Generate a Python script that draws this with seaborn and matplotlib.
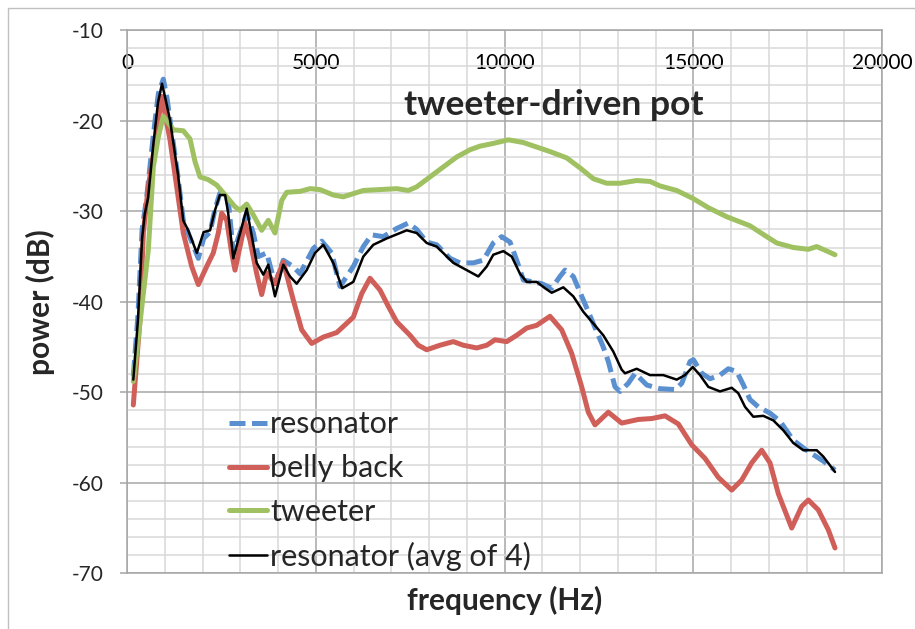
import pandas as pd
import matplotlib
matplotlib.use('Agg')
import matplotlib.pyplot as plt
from matplotlib.patches import Rectangle
from matplotlib.ticker import MultipleLocator
import seaborn as sns

# resonator (single measurement), dashed blue
res_freq = [167, 290, 400, 520, 700, 830, 962, 1060, 1160, 1360, 1490, 1630, 1889, 2030,
            2200, 2330, 2460, 2600, 2700, 2816, 3171, 3346, 3480, 3700, 3920, 4140, 4400,
            4583, 4937, 5160, 5420, 5642, 5995, 6260, 6480, 6790, 7144, 7452, 7674, 7939,
            8204, 8556, 8820, 9175, 9440, 9703, 9924, 10146, 10323, 10500, 10765, 10985,
            11250, 11470, 11603, 11823, 12088, 12352, 12617, 12750, 12927, 13062, 13280,
            13460, 13770, 14120, 14520, 14697, 14915, 15004, 15225, 15445, 15709, 15930,
            16150, 16330, 16503, 16720, 17032, 17300, 17650, 18000, 18445, 18755]
res_db = [-48.2, -41.5, -32.0, -28.5, -21.5, -17.0, -15.4, -17.5, -20.5, -26.5, -31.0, -32.5,
          -35.2, -33.0, -32.3, -29.8, -28.0, -27.9, -29.5, -34.6, -30.2, -32.4, -35.0, -34.6,
          -38.0, -35.4, -36.1, -36.9, -34.1, -33.3, -34.6, -38.3, -36.1, -33.9, -32.6, -32.8,
          -31.9, -31.3, -32.0, -33.4, -33.7, -35.2, -35.7, -35.7, -35.4, -33.5, -32.8, -33.4,
          -35.4, -37.6, -37.8, -38.0, -38.5, -37.2, -36.5, -37.2, -39.8, -42.4, -45.0, -46.6,
          -49.4, -49.9, -49.0, -47.9, -49.2, -49.6, -49.7, -49.0, -46.6, -46.4, -47.9, -48.5,
          -48.1, -47.4, -47.7, -49.2, -50.8, -51.6, -52.3, -53.2, -55.3, -56.4, -57.6, -58.6]

# belly back, red
belly_freq = [167, 344, 432, 564, 787, 919, 1139, 1317, 1491, 1714, 1889, 2111, 2286, 2419,
              2509, 2641, 2773, 2861, 2993, 3126, 3258, 3436, 3568, 3701, 3920, 4140, 4405,
              4628, 4893, 5200, 5555, 5995, 6217, 6437, 6702, 6922, 7144, 7497, 7717, 7939,
              8291, 8644, 8909, 9264, 9529, 9748, 10058, 10323, 10588, 10853, 11205, 11515,
              11780, 12045, 12220, 12397, 12750, 13104, 13545, 13900, 14252, 14604, 14959,
              15311, 15664, 16019, 16283, 16548, 16813, 17033, 17253, 17608, 17873, 18048,
              18313, 18578, 18755]
belly_db = [-51.4, -42.0, -32.4, -27.3, -21.4, -17.3, -22.1, -27.3, -32.4, -36.1, -38.1, -36.1,
            -34.6, -32.4, -30.2, -31.0, -34.6, -36.5, -33.9, -31.3, -33.2, -36.9, -39.2, -36.8,
            -38.0, -35.6, -39.8, -43.1, -44.6, -43.9, -43.4, -41.7, -39.1, -37.4, -38.7, -40.5,
            -42.2, -43.7, -44.8, -45.3, -44.8, -44.4, -44.8, -45.1, -44.8, -44.2, -44.4, -43.7,
            -42.9, -42.6, -41.6, -43.1, -45.7, -49.4, -52.2, -53.6, -52.2, -53.4, -53.0, -52.9,
            -52.6, -53.5, -55.8, -57.3, -59.4, -60.8, -59.7, -57.8, -56.4, -57.8, -61.2, -65.0,
            -62.6, -61.9, -63.0, -65.2, -67.2]

# tweeter, green
tweet_freq = [167, 564, 697, 829, 962, 1227, 1491, 1669, 1801, 1934, 2154, 2376, 2641, 2861,
              2993, 3171, 3346, 3568, 3743, 3920, 4098, 4230, 4583, 4848, 5113, 5465, 5730,
              6260, 6702, 7144, 7452, 7674, 8026, 8379, 8734, 9086, 9351, 9703, 10101, 10498,
              10853, 11205, 11648, 12000, 12352, 12707, 13062, 13502, 13854, 14120, 14562,
              15001, 15399, 15886, 16503, 16946, 17211, 17649, 18047, 18270, 18490, 18755]
tweet_db = [-48.8, -34.3, -25.1, -21.8, -19.5, -21.0, -21.1, -22.0, -24.5, -26.2, -26.5, -27.1,
            -28.4, -29.5, -29.9, -29.2, -30.4, -32.1, -31.0, -32.4, -28.8, -27.9, -27.8, -27.5,
            -27.6, -28.2, -28.4, -27.7, -27.6, -27.5, -27.7, -27.3, -26.2, -25.1, -24.0, -23.2,
            -22.8, -22.5, -22.1, -22.4, -22.9, -23.4, -24.1, -25.2, -26.4, -26.9, -26.9, -26.6,
            -26.7, -27.2, -27.7, -28.6, -29.6, -30.6, -31.6, -32.8, -33.5, -34.0, -34.2, -33.9,
            -34.3, -34.8]

# resonator averaged over 4 measurements, black
avg_freq = [167, 290, 400, 470, 560, 700, 820, 927, 1020, 1139, 1360, 1490, 1620, 1850, 2030,
            2200, 2330, 2460, 2600, 2680, 2816, 3171, 3436, 3611, 3743, 3920, 4140, 4318, 4495,
            4760, 4980, 5200, 5465, 5700, 5995, 6260, 6525, 6879, 7410, 7674, 7939, 8204, 8644,
            8999, 9306, 9529, 9703, 9968, 10191, 10411, 10588, 10853, 11073, 11250, 11558,
            11823, 12088, 12352, 12617, 12882, 13104, 13192, 13502, 13854, 14207, 14562, 14781,
            14986, 15179, 15399, 15709, 16019, 16193, 16371, 16591, 16856, 17120, 17385, 17650,
            17915, 18270, 18445, 18755]
avg_db = [-48.6, -42.0, -33.0, -30.3, -28.5, -22.5, -18.0, -15.9, -17.6, -19.9, -26.2, -31.0,
          -32.1, -34.6, -32.3, -32.1, -29.9, -28.2, -28.2, -30.2, -35.2, -29.7, -35.7, -37.0,
          -35.9, -39.4, -35.9, -37.2, -38.0, -36.5, -34.6, -33.7, -35.7, -38.5, -37.8, -35.0,
          -33.7, -33.0, -32.1, -32.4, -33.5, -33.9, -35.7, -36.5, -37.2, -36.1, -34.8, -34.4,
          -35.0, -36.9, -37.8, -37.8, -38.5, -39.0, -38.4, -39.4, -41.1, -42.4, -43.7, -45.5,
          -47.5, -47.9, -47.4, -48.1, -48.1, -48.6, -48.1, -47.2, -48.1, -49.4, -49.9, -49.5,
          -50.1, -51.6, -52.7, -52.6, -53.1, -54.2, -55.6, -56.4, -56.4, -57.1, -58.8]

series_names = ['resonator', 'belly back', 'tweeter', 'resonator (avg of 4)']
series_colors = ['#5a8fd0', '#cf5f58', '#9fc162', '#000000']

frames = []
for name, f, p in zip(series_names,
                      [res_freq, belly_freq, tweet_freq, avg_freq],
                      [res_db, belly_db, tweet_db, avg_db]):
    frames.append(pd.DataFrame({'freq': f, 'power': p, 'series': name}))
df = pd.concat(frames, ignore_index=True)

sns.set_style('white')
plt.rcParams['font.family'] = ['Lato', 'DejaVu Sans']
plt.rcParams['axes.unicode_minus'] = False

fig = plt.figure(figsize=(9.15, 6.29), dpi=100)
ax = fig.add_axes([127 / 915, 1 - 573.3 / 629, 755 / 915, 543 / 629])

styles = {
    'resonator': dict(lw=3.6, linestyle=(0, (3.2, 1.3))),
    'belly back': dict(lw=3.6),
    'tweeter': dict(lw=3.6),
    'resonator (avg of 4)': dict(lw=1.8),
}
for name, color in zip(series_names, series_colors):
    sub = df[df['series'] == name]
    sns.lineplot(data=sub, x='freq', y='power', ax=ax, color=color, label=name,
                 estimator=None, sort=False, solid_joinstyle='round', **styles[name])

ax.set_xlim(0, 20000)
ax.set_ylim(-70, -10)
ax.xaxis.set_major_locator(MultipleLocator(5000))
ax.xaxis.set_minor_locator(MultipleLocator(1000))
ax.yaxis.set_major_locator(MultipleLocator(10))
ax.yaxis.set_minor_locator(MultipleLocator(2))

ax.set_axisbelow(True)
ax.grid(which='minor', color='#d9d9d9', lw=1.1)
ax.grid(which='major', color='#a6a6a6', lw=1.1)
for sp in ax.spines.values():
    sp.set_color('#a6a6a6')
    sp.set_linewidth(1.1)

ax.xaxis.tick_top()
ax.tick_params(axis='x', which='both', length=0, labelsize=15, pad=-31, labelcolor='black')
ax.tick_params(axis='y', which='major', direction='out', length=5, width=1.1,
               color='#a6a6a6', labelsize=15, pad=12, left=True)
ax.tick_params(axis='y', which='minor', length=0)

ax.set_xlabel('frequency (Hz)', fontsize=21.5, fontweight='bold')
ax.xaxis.set_label_position('bottom')
ax.xaxis.set_label_coords(0.5, -0.024)
ax.xaxis.label.set_va('top')
ax.set_ylabel('power (dB)', fontsize=21.5, fontweight='bold')
ax.yaxis.set_label_coords(-0.095, 0.5)

# title sits inside the plot area, centred near 11.2 kHz
ax.text(11300, -19.4, 'tweeter-driven pot', fontsize=25.5, fontweight='bold',
        ha='center', va='baseline')

ax.legend(loc='upper left', bbox_to_anchor=(0.135, 0.3), frameon=False,
          fontsize=22, borderpad=0, borderaxespad=0, handlelength=1.25,
          handletextpad=0.1, labelspacing=0.52)

fig.patches.append(Rectangle((8 / 915, -0.1), 1.2, 1 - 8 / 629 + 0.1,
                             transform=fig.transFigure, fill=False,
                             edgecolor='#c0c0c0', lw=1))

fig.savefig('out.png', dpi=100)
